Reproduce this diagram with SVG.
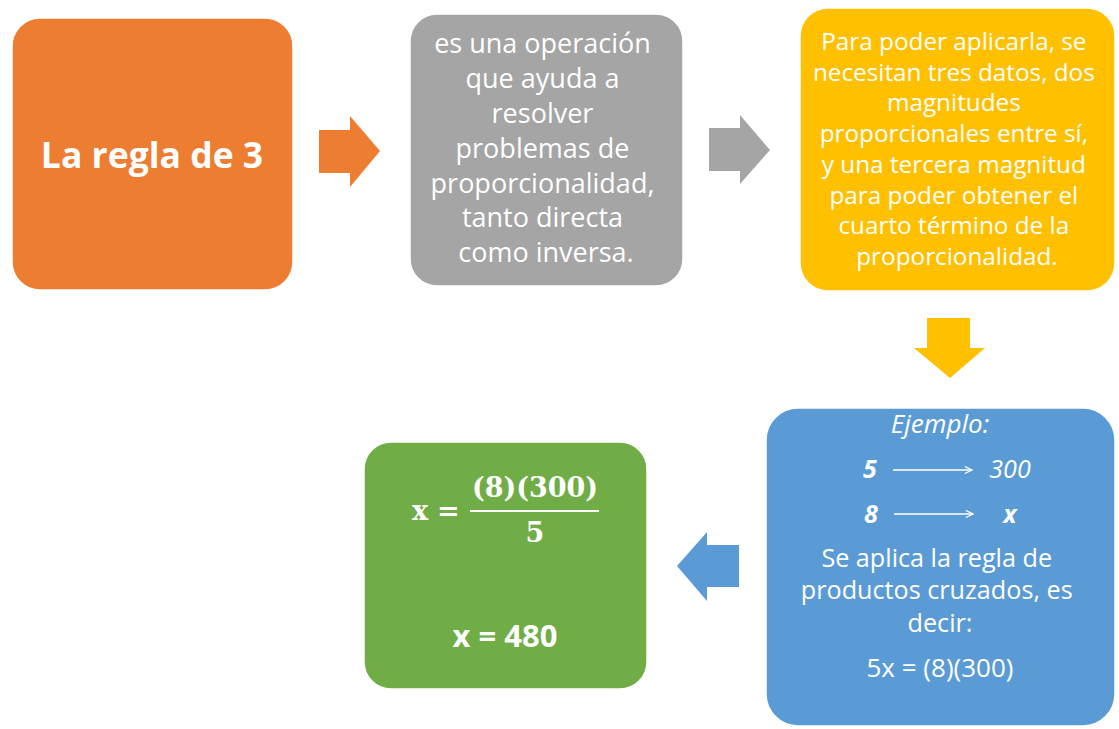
<svg xmlns="http://www.w3.org/2000/svg" width="1119" height="729" viewBox="0 0 1119 729">
<defs>
<style>
.box{stroke:#ffffff;stroke-width:1.5}
.t{font-family:"Open Sans","Liberation Sans",sans-serif;fill:#ffffff;text-anchor:middle}
.m{font-family:"DejaVu Serif","Liberation Serif",serif;font-weight:bold;fill:#ffffff}
.ln{stroke:#ffffff;stroke-width:1.3;fill:none}
</style>
<marker id="ah" viewBox="0 0 10 10" refX="9" refY="5" markerWidth="9" markerHeight="9" markerUnits="userSpaceOnUse" orient="auto">
<path d="M1,1 L9,5 L1,9" fill="none" stroke="#ffffff" stroke-width="1.3"/>
</marker>
</defs>
<rect width="1119" height="729" fill="#ffffff"/>

<g id="node-regla">
<rect class="box" x="12" y="18" width="281" height="272" rx="28" fill="#ED7D31"/>
<text class="t" x="152" y="168" font-size="35.5" font-weight="bold">La regla de 3</text>
</g>

<g id="node-operacion">
<rect class="box" x="410" y="14" width="273" height="272" rx="27" fill="#A5A5A5"/>
<text class="t" font-size="27">
<tspan x="546" y="53">es una operación</tspan>
<tspan x="546" y="88">que ayuda a</tspan>
<tspan x="546" y="123">resolver</tspan>
<tspan x="546" y="158">problemas de</tspan>
<tspan x="546" y="193">proporcionalidad,</tspan>
<tspan x="546" y="227">tanto directa</tspan>
<tspan x="546" y="262">como inversa.</tspan>
</text>
</g>

<g id="node-datos">
<rect class="box" x="800" y="8" width="315" height="283" rx="28" fill="#FFC000"/>
<text class="t" font-size="24.3">
<tspan x="957" y="50">Para poder aplicarla, se</tspan>
<tspan x="957" y="81">necesitan tres datos, dos</tspan>
<tspan x="957" y="111">magnitudes</tspan>
<tspan x="957" y="142">proporcionales entre sí,</tspan>
<tspan x="957" y="173">y una tercera magnitud</tspan>
<tspan x="957" y="204">para poder obtener el</tspan>
<tspan x="957" y="234">cuarto término de la</tspan>
<tspan x="957" y="265">proporcionalidad.</tspan>
</text>
</g>

<g id="node-ejemplo">
<rect class="box" x="766" y="408" width="349" height="318" rx="32" fill="#5B9BD5"/>
<text class="t" x="940" y="433" font-size="26" font-style="italic">Ejemplo:</text>
<text class="t" x="870" y="478" font-size="25" font-style="italic" font-weight="bold">5</text>
<text class="t" x="1010" y="478" font-size="25" font-style="italic">300</text>
<text class="t" x="871" y="523" font-size="25" font-style="italic" font-weight="bold">8</text>
<text class="t" x="1010" y="523" font-size="25" font-style="italic" font-weight="bold">x</text>
<path class="ln" d="M893,470 H972" marker-end="url(#ah)"/>
<path class="ln" d="M894,514 H973" marker-end="url(#ah)"/>
<text class="t" font-size="25.2">
<tspan x="940" y="567">Se aplica la regla de</tspan>
<tspan x="940" y="599">productos cruzados, es</tspan>
<tspan x="940" y="632">decir:</tspan>
</text>
<text class="t" x="940" y="677" font-size="26">5x = (8)(300)</text>
</g>

<g id="node-resultado">
<rect class="box" x="364" y="442" width="283" height="247" rx="27" fill="#70AD47"/>
<text class="m" x="412" y="520" font-size="27">x</text>
<text class="m" x="437" y="520" font-size="27">=</text>
<text class="m" x="535" y="497" font-size="27" text-anchor="middle">(8)(300)</text>
<rect x="470" y="510" width="129" height="2" fill="#ffffff"/>
<text class="m" x="535" y="542" font-size="27" text-anchor="middle">5</text>
<text class="t" x="505" y="647" font-size="31" font-weight="bold">x = 480</text>
</g>

<g id="connectors">
<polygon points="319,130 350,130 350,116 380,151 350,187 350,173 319,173" fill="#ED7D31"/>
<polygon points="709,128 740,128 740,115 770,150 740,184 740,171 709,171" fill="#A5A5A5"/>
<polygon points="927,318 970,318 970,348 985,348 950,378 914,348 927,348" fill="#FFC000"/>
<polygon points="739,545 707,545 707,532 677,566 707,601 707,587 739,587" fill="#5B9BD5"/>
</g>
</svg>
